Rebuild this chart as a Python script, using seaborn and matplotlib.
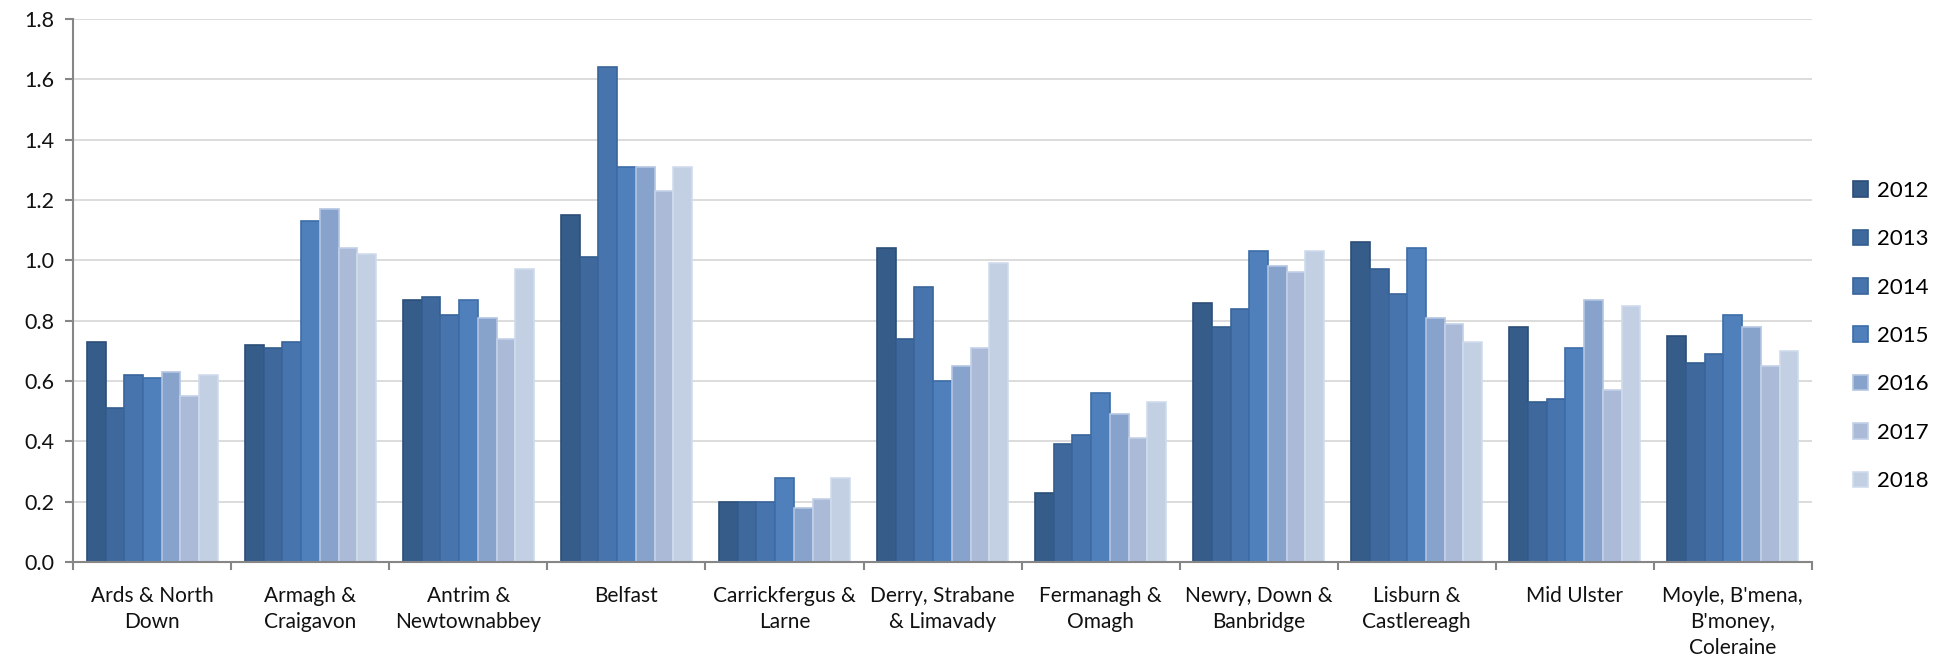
import matplotlib
matplotlib.use("Agg")
import matplotlib.pyplot as plt
import seaborn as sns
import pandas as pd
from matplotlib.patches import Patch

councils = [
    "Ards & North\nDown", "Armagh &\nCraigavon", "Antrim &\nNewtownabbey", "Belfast",
    "Carrickfergus &\nLarne", "Derry, Strabane\n& Limavady", "Fermanagh &\nOmagh",
    "Newry, Down &\nBanbridge", "Lisburn &\nCastlereagh", "Mid Ulster",
    "Moyle, B'mena,\nB'money,\nColeraine",
]
years = ["2012", "2013", "2014", "2015", "2016", "2017", "2018"]

v2012 = [0.73, 0.72, 0.87, 1.15, 0.20, 1.04, 0.23, 0.86, 1.06, 0.78, 0.75]
v2013 = [0.51, 0.71, 0.88, 1.01, 0.20, 0.74, 0.39, 0.78, 0.97, 0.53, 0.66]
v2014 = [0.62, 0.73, 0.82, 1.64, 0.20, 0.91, 0.42, 0.84, 0.89, 0.54, 0.69]
v2015 = [0.61, 1.13, 0.87, 1.31, 0.28, 0.60, 0.56, 1.03, 1.04, 0.71, 0.82]
v2016 = [0.63, 1.17, 0.81, 1.31, 0.18, 0.65, 0.49, 0.98, 0.81, 0.87, 0.78]
v2017 = [0.55, 1.04, 0.74, 1.23, 0.21, 0.71, 0.41, 0.96, 0.79, 0.57, 0.65]
v2018 = [0.62, 1.02, 0.97, 1.31, 0.28, 0.99, 0.53, 1.03, 0.73, 0.85, 0.70]

series = [v2012, v2013, v2014, v2015, v2016, v2017, v2018]
fills = ["#365C89", "#3F699D", "#4774AC", "#4F80BC", "#87A2CB", "#AABAD7", "#C3CFE2"]
edges = ["#2C4E78", "#335D8E", "#3A659C", "#3C6DA8", "#B4C6E2", "#C3D1E8", "#D0DCEC"]

df = pd.DataFrame({
    "council": [c for s in series for c in councils],
    "year": [y for y, s in zip(years, series) for _ in s],
    "value": [v for s in series for v in s],
})

plt.rcParams["font.family"] = ["Lato", "DejaVu Sans"]

fig = plt.figure(figsize=(19.46, 6.65), dpi=100)
ax = fig.add_axes([0.0377, 0.1549, 0.8933, 0.8165])

sns.barplot(data=df, x="council", y="value", hue="year", order=councils,
            hue_order=years, palette=fills, width=0.83, saturation=1,
            errorbar=None, legend=False, ax=ax)

n = len(councils)
for i, cont in enumerate(ax.containers):
    for bar in cont:
        bar.set_edgecolor(edges[i])
        bar.set_linewidth(1.2)

ax.set_xlim(-0.5, n - 0.5)
ax.set_ylim(0, 1.8)
ax.set_yticks([i * 0.2 for i in range(10)])
ax.set_yticklabels([f"{i * 0.2:.1f}" for i in range(10)], fontsize=15.5, color="#111111")
ax.set_xlabel("")
ax.set_ylabel("")

ax.yaxis.grid(True, color="#D9D9D9", linewidth=1.3)
ax.set_axisbelow(True)
for side in ["top", "right"]:
    ax.spines[side].set_visible(False)
for side in ["left", "bottom"]:
    ax.spines[side].set_color("#868686")
    ax.spines[side].set_linewidth(1.5)

ax.tick_params(axis="y", length=5.5, width=1.5, color="#868686", pad=8)
ax.set_xticks(range(n))
ax.set_xticklabels(councils, fontsize=15, linespacing=1.4, color="#111111")
ax.tick_params(axis="x", which="major", length=0, pad=17)
ax.set_xticks([i - 0.5 for i in range(n + 1)], minor=True)
ax.tick_params(axis="x", which="minor", length=5.5, width=1.5, color="#868686")

handles = [Patch(facecolor=f, edgecolor=e, linewidth=1.2) for f, e in zip(fills, edges)]
fig.legend(handles, years, loc="center left", bbox_to_anchor=(0.952, 0.4947),
           frameon=False, fontsize=16, handlelength=0.7, handleheight=0.7,
           handletextpad=0.4, labelspacing=1.28, borderpad=0, borderaxespad=0)

fig.savefig("out.png", dpi=100, facecolor="white")
